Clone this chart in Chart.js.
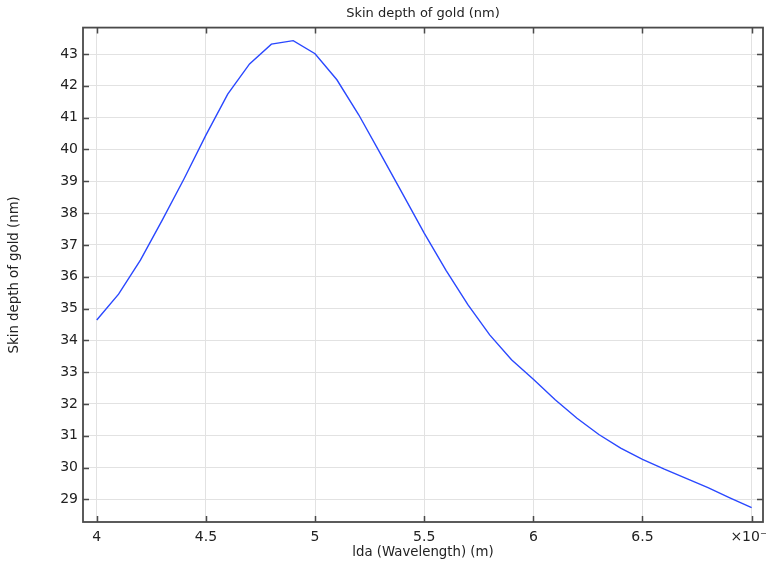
<!DOCTYPE html>
<html>
<head>
<meta charset="utf-8">
<script src="https://cdn.jsdelivr.net/npm/chart.js@4"></script>
<style>
  html, body { margin: 0; padding: 0; background: #fff; }
  #wrap { width: 766px; height: 561px; }
</style>
</head>
<body>
<div id="wrap"><canvas id="chart" width="766" height="561"></canvas></div>
<script>
// Skin depth of gold vs wavelength (x in units of 1e-7 m)
const wavelength = [4.0, 4.1, 4.2, 4.3, 4.4, 4.5, 4.6, 4.7, 4.8, 4.9,
                    5.0, 5.1, 5.2, 5.3, 5.4, 5.5, 5.6, 5.7, 5.8, 5.9,
                    6.0, 6.1, 6.2, 6.3, 6.4, 6.5, 6.6, 6.7, 6.8, 6.9, 7.0];
const skinDepth = [34.64, 35.45, 36.52, 37.78, 39.08, 40.45, 41.74, 42.69, 43.31, 43.42,
                   43.01, 42.19, 41.09, 39.86, 38.62, 37.37, 36.20, 35.12, 34.17, 33.39,
                   32.78, 32.13, 31.55, 31.04, 30.61, 30.26, 29.95, 29.66, 29.37, 29.05, 28.74];

const xTicks = [4, 4.5, 5, 5.5, 6, 6.5, 7];
const xTickLabels = ['4', '4.5', '5', '5.5', '6', '6.5', '×10⁻⁷'];
const yTicks = [29, 30, 31, 32, 33, 34, 35, 36, 37, 38, 39, 40, 41, 42, 43];

const FONT = 'DejaVu Sans';
const AXIS_COLOR = '#4a4a4a';

// draws inward tick marks on all four sides of the frame
const frameTicks = {
    id: 'frameTicks',
    afterDatasetsDraw(chart) {
        const { ctx, chartArea: a, scales } = chart;
        ctx.save();
        ctx.strokeStyle = AXIS_COLOR;
        ctx.lineWidth = 1.5;
        ctx.beginPath();
        xTicks.forEach(v => {
            const x = Math.round(scales.x.getPixelForValue(v)) + 0.5;
            ctx.moveTo(x, a.bottom); ctx.lineTo(x, a.bottom - 6);
            ctx.moveTo(x, a.top); ctx.lineTo(x, a.top + 6);
        });
        yTicks.forEach(v => {
            const y = Math.round(scales.y.getPixelForValue(v)) + 0.5;
            ctx.moveTo(a.left, y); ctx.lineTo(a.left + 6, y);
            ctx.moveTo(a.right, y); ctx.lineTo(a.right - 6, y);
        });
        ctx.stroke();
        ctx.lineWidth = 1.8;
        ctx.strokeRect(a.left, a.top, a.right - a.left, a.bottom - a.top);
        ctx.restore();
    }
};

new Chart(document.getElementById('chart'), {
    type: 'line',
    data: {
        datasets: [{
            data: wavelength.map((w, i) => ({ x: w, y: skinDepth[i] })),
            borderColor: '#2a48ff',
            borderWidth: 1.4,
            pointRadius: 0,
            tension: 0,
            fill: false
        }]
    },
    options: {
        responsive: false,
        animation: false,
        layout: { padding: { left: 0, right: 3, top: 0, bottom: 0 } },
        plugins: {
            legend: { display: false },
            tooltip: { enabled: false },
            title: {
                display: true,
                fullSize: false,
                text: 'Skin depth of gold (nm)',
                color: '#222',
                font: { family: FONT, size: 13, weight: 'normal' },
                padding: { top: 6, bottom: 6 }
            }
        },
        scales: {
            x: {
                type: 'linear',
                min: 3.937,
                max: 7.052,
                afterBuildTicks: s => { s.ticks = xTicks.map(v => ({ value: v })); },
                afterFit: s => { s.height = 39; s.paddingRight = 0; s.paddingLeft = 0; },
                ticks: {
                    color: '#222',
                    font: { family: FONT, size: 14 },
                    padding: 7,
                    maxRotation: 0,
                    autoSkip: false,
                    callback: (v) => xTickLabels[xTicks.indexOf(v)]
                },
                grid: { color: '#e2e2e2', lineWidth: 1, drawTicks: false },
                border: { display: false },
                title: {
                    display: true,
                    text: 'lda (Wavelength) (m)',
                    color: '#222',
                    font: { family: FONT, size: 13.3 },
                    padding: { top: 0, bottom: 0 }
                }
            },
            y: {
                type: 'linear',
                min: 28.29,
                max: 43.83,
                afterBuildTicks: s => { s.ticks = yTicks.map(v => ({ value: v })); },
                afterFit: s => { s.width = 83; s.paddingTop = 0; s.paddingBottom = 0; },
                ticks: {
                    color: '#222',
                    font: { family: FONT, size: 14 },
                    padding: 5,
                    autoSkip: false
                },
                grid: { color: '#e2e2e2', lineWidth: 1, drawTicks: false },
                border: { display: false },
                title: {
                    display: true,
                    text: 'Skin depth of gold (nm)',
                    color: '#222',
                    font: { family: FONT, size: 13.3 },
                    padding: { top: 7, bottom: 0 }
                }
            }
        }
    },
    plugins: [frameTicks]
});
</script>
</body>
</html>
